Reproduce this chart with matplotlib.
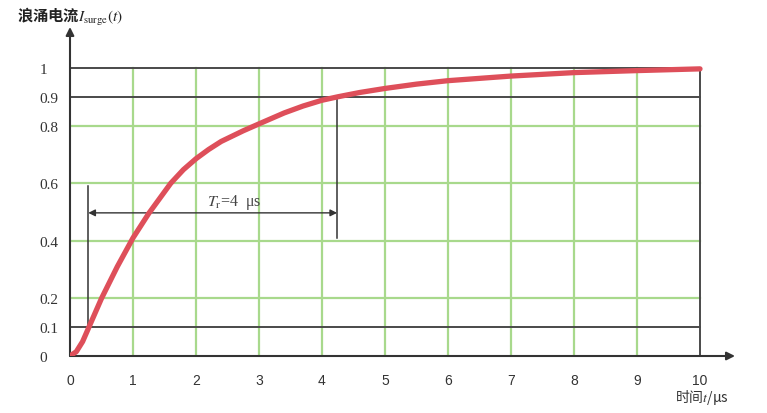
import matplotlib
matplotlib.use("Agg")
import numpy as np
import matplotlib.pyplot as plt

plt.rcParams['font.family'] = ['Noto Sans CJK SC', 'DejaVu Sans']
plt.rcParams['mathtext.fontset'] = 'stix'

# surge current curve
t_us = [0, 0.1, 0.2, 0.3, 0.5, 0.75, 1.0, 1.25, 1.6, 1.8, 2.0, 2.2, 2.4,
        2.75, 3.0, 3.4, 3.7, 4.0, 4.25, 4.6, 5, 5.5, 6, 7, 8, 9, 10]
i_surge = [0, 0.015, 0.05, 0.10, 0.20, 0.31, 0.41, 0.495, 0.60, 0.647,
           0.685, 0.717, 0.745, 0.782, 0.806, 0.844, 0.868, 0.888, 0.90,
           0.915, 0.929, 0.944, 0.956, 0.972, 0.984, 0.991, 0.997]

x_ticks = [0, 1, 2, 3, 4, 5, 6, 7, 8, 9, 10]
y_ticks = [0, 0.1, 0.2, 0.4, 0.6, 0.8, 0.9, 1]
y_labels = ["0", "0.1", "0.2", "0.4", "0.6", "0.8", "0.9", "1"]
green_y = [0.2, 0.4, 0.6, 0.8]
black_y = [0.1, 0.9, 1.0]
green_x = [1, 2, 3, 4, 5, 6, 7, 8, 9]

t10, t90 = 0.29, 4.24
rise_label = r"$T_{\rm r}$=4  μs"

W, H = 767, 414
fig = plt.figure(figsize=(W / 100, H / 100), dpi=100)
ax = fig.add_axes([70 / W, 1 - 357 / H, (735 - 70) / W, (357 - 28) / H])
ax.set_xlim(0, (735 - 70) / 63.0)
ax.set_ylim(0, (357 - 28) / 288.0)

green = "#a8d98c"
dark = "#4a4a4a"

#grid
for gx in green_x:
    ax.plot([gx, gx], [0, 1], color=green, lw=1.6, zorder=1)
ax.plot([10, 10], [0, 1], color=dark, lw=1.4, zorder=2)
for gy in green_y:
    ax.plot([0, 10], [gy, gy], color=green, lw=1.6, zorder=1)
for gy in black_y:
    ax.plot([0, 10], [gy, gy], color=dark, lw=1.4, zorder=2)

ax.plot(t_us, i_surge, color="#de4f5a", lw=3.8, solid_capstyle="round",
        solid_joinstyle="round", zorder=4)

# rise time markers
ax.plot([t10, t10], [0.1, 0.59], color="#333333", lw=1.1, zorder=3)
ax.plot([t90, t90], [0.41, 0.9], color="#333333", lw=1.1, zorder=3)
ax.annotate("", xy=(t10, 0.497), xytext=(t90, 0.497),
            arrowprops=dict(arrowstyle="<|-|>", color="#333333", lw=1.0,
                            mutation_scale=10, shrinkA=0, shrinkB=0))
ax.text(2.6, 0.535, rise_label, ha="center", va="center", fontsize=11.5,
        color="#444444", family=["Liberation Serif", "DejaVu Sans"])

# axes with arrows
for s in ["top", "right", "left", "bottom"]:
    ax.spines[s].set_visible(False)
ax.annotate("", xy=(0, 1.0), xytext=(0, 0), xycoords="axes fraction",
            arrowprops=dict(arrowstyle="-|>", color="#333333", lw=1.5,
                            mutation_scale=12, shrinkA=0, shrinkB=0))
ax.annotate("", xy=(1.0, 0), xytext=(0, 0), xycoords="axes fraction",
            arrowprops=dict(arrowstyle="-|>", color="#333333", lw=1.5,
                            mutation_scale=12, shrinkA=0, shrinkB=0))

ax.set_xticks(x_ticks)
ax.set_xticklabels([str(v) for v in x_ticks], family=["Liberation Sans"],
                   fontsize=10, color="#333333")
ax.set_yticks(y_ticks)
ax.set_yticklabels(y_labels, family=["Liberation Serif"], fontsize=11,
                   color="#333333", ha="left")
ax.tick_params(axis="x", length=0, pad=12)
ax.tick_params(axis="y", length=0, pad=22)

fig.text(17 / W, 1 - 17 / H, r"浪涌电流$I_{\rm surge}(t)$", ha="left",
         va="center", fontsize=11, fontweight="bold", color="#222222")
fig.text(675 / W, 1 - 398 / H, r"时间$t$/μs", ha="left", va="center",
         fontsize=10, color="#333333")

fig.savefig("out.png", dpi=100)
